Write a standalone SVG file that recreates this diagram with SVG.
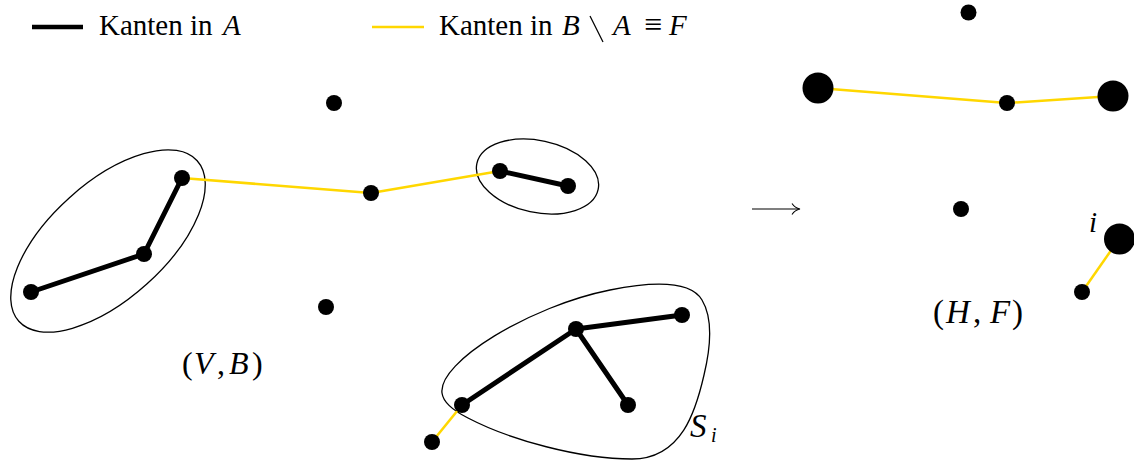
<svg xmlns="http://www.w3.org/2000/svg" width="1134" height="461" viewBox="0 0 1134 461">
<style>
.t{font-family:"Liberation Serif","Times New Roman",serif;font-size:29px;fill:#000}
.L{font-size:32px}
.m{font-style:italic}
.a{stroke:#000;stroke-width:5;stroke-linecap:round;fill:none}
.f{stroke:#FFD700;stroke-width:2.5;fill:none}
.c{stroke:#000;stroke-width:1.3;fill:none}
.n{fill:#000}
</style>
<rect width="1134" height="461" fill="#fff"/>
<g id="legend">
<line x1="32" y1="27" x2="83" y2="27" stroke="#000" stroke-width="4.5"/>
<text class="t" x="99" y="35">Kanten in</text>
<text class="t m" x="223" y="35">A</text>
<line x1="372" y1="27" x2="424" y2="27" stroke="#FFD700" stroke-width="2.5"/>
<text class="t" x="439" y="35">Kanten in</text>
<text class="t m" x="562" y="35">B</text>
<line x1="590" y1="16" x2="603" y2="42" stroke="#000" stroke-width="1.2"/>
<text class="t m" x="613" y="35">A</text>
<text class="t" x="644" y="35" style="font-size:32px">≡</text>
<text class="t m" x="669" y="35">F</text>
</g>
<g id="clusters">
<ellipse class="c" cx="108" cy="241" rx="120" ry="58" transform="rotate(-42 108 241)"/>
<ellipse class="c" cx="537.5" cy="176.5" rx="62" ry="36" transform="rotate(12 537.5 176.5)"/>
<path class="c" d="M 442,393 C 438,362 530,306 610,290 C 650,282 690,280 702,300 C 714,320 710,350 704,375 C 696,410 682,459 632,459 C 580,459 510,440 468,418 C 452,410 443,401 442,393 Z"/>
</g>
<g id="connectors">
<line class="f" x1="182" y1="178" x2="371" y2="193"/>
<line class="f" x1="371" y1="193" x2="500" y2="171"/>
<line class="f" x1="462" y1="405" x2="432" y2="442"/>
<line class="a" x1="182" y1="178" x2="144" y2="254"/>
<line class="a" x1="144" y1="254" x2="31" y2="292"/>
<line class="a" x1="500" y1="171" x2="568" y2="186"/>
<line class="a" x1="462" y1="405" x2="576" y2="329"/>
<line class="a" x1="576" y1="329" x2="682" y2="315"/>
<line class="a" x1="576" y1="329" x2="628" y2="405"/>
<line class="f" x1="818" y1="88" x2="1007" y2="103"/>
<line class="f" x1="1007" y1="103" x2="1113" y2="96"/>
<line class="f" x1="1119" y1="239" x2="1082" y2="292"/>
</g>
<g id="nodes-left">
<circle id="v1" class="n" cx="334" cy="103" r="8"/>
<circle id="v2" class="n" cx="182" cy="178" r="8"/>
<circle id="v3" class="n" cx="144" cy="254" r="8"/>
<circle id="v4" class="n" cx="31" cy="292" r="8"/>
<circle id="v5" class="n" cx="371" cy="193" r="8"/>
<circle id="v6" class="n" cx="500" cy="171" r="8"/>
<circle id="v7" class="n" cx="568" cy="186" r="8"/>
<circle id="v8" class="n" cx="326" cy="307" r="8"/>
<circle id="v9" class="n" cx="576" cy="329" r="8"/>
<circle id="v10" class="n" cx="682" cy="315" r="8"/>
<circle id="v11" class="n" cx="462" cy="405" r="8"/>
<circle id="v12" class="n" cx="628" cy="405" r="8"/>
<circle id="v13" class="n" cx="432" cy="442" r="8"/>
</g>
<g id="nodes-right">
<circle id="h1" class="n" cx="968.5" cy="12.5" r="8"/>
<circle id="h2" class="n" cx="818" cy="88" r="15.5"/>
<circle id="h3" class="n" cx="1007" cy="103" r="8"/>
<circle id="h4" class="n" cx="1113" cy="96" r="15.5"/>
<circle id="h5" class="n" cx="961" cy="209" r="8"/>
<circle id="h6" class="n" cx="1119.5" cy="239" r="15.5"/>
<circle id="h7" class="n" cx="1082" cy="292" r="8"/>
</g>
<g id="labels">
<text class="t L" y="374"><tspan x="182">(</tspan><tspan class="m" x="194">V</tspan><tspan x="217">,</tspan><tspan class="m" x="229">B</tspan><tspan x="252">)</tspan></text>
<text class="t" y="323" style="font-size:33px"><tspan x="933">(</tspan><tspan class="m" x="946">H</tspan><tspan x="973">,</tspan><tspan class="m" x="990">F</tspan><tspan x="1012">)</tspan></text>
<text class="t m" x="1089" y="232">i</text>
<text class="t m" x="690" y="437" style="font-size:33px">S</text>
<text class="t m" x="711" y="442" style="font-size:20px">i</text>
</g>
<g id="arrow">
<line x1="752" y1="209" x2="799" y2="209" stroke="#000" stroke-width="1.2"/>
<path d="M 792,203.5 Q 795,208 800,209 Q 795,210 792,214.5" stroke="#000" stroke-width="1.1" fill="none"/>
</g>
</svg>
